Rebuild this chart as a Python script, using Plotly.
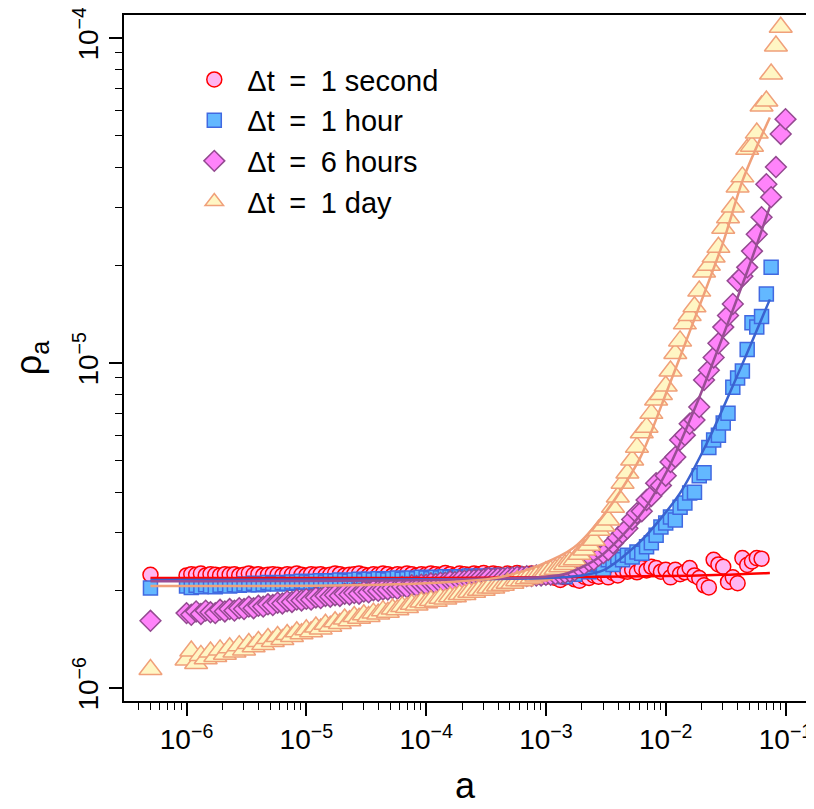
import plotly.graph_objects as go

# shared grid of a values (first isolated point, then log-binned values)
a_grid = [
    5.0e-7,
    1.000e-6, 1.096e-6, 1.202e-6, 1.318e-6, 1.445e-6, 1.585e-6, 1.738e-6, 1.905e-6, 2.089e-6, 2.291e-6,
    2.512e-6, 2.754e-6, 3.020e-6, 3.311e-6, 3.631e-6, 3.981e-6, 4.365e-6, 4.786e-6, 5.248e-6, 5.754e-6,
    6.310e-6, 6.918e-6, 7.586e-6, 8.318e-6, 9.120e-6,
    1.000e-5, 1.096e-5, 1.202e-5, 1.318e-5, 1.445e-5, 1.585e-5, 1.738e-5, 1.905e-5, 2.089e-5, 2.291e-5,
    2.512e-5, 2.754e-5, 3.020e-5, 3.311e-5, 3.631e-5, 3.981e-5, 4.365e-5, 4.786e-5, 5.248e-5, 5.754e-5,
    6.310e-5, 6.918e-5, 7.586e-5, 8.318e-5, 9.120e-5,
    1.000e-4, 1.096e-4, 1.202e-4, 1.318e-4, 1.445e-4, 1.585e-4, 1.738e-4, 1.905e-4, 2.089e-4, 2.291e-4,
    2.512e-4, 2.754e-4, 3.020e-4, 3.311e-4, 3.631e-4, 3.981e-4, 4.365e-4, 4.786e-4, 5.248e-4, 5.754e-4,
    6.310e-4, 6.918e-4, 7.586e-4, 8.318e-4, 9.120e-4,
    1.000e-3, 1.096e-3, 1.202e-3, 1.318e-3, 1.445e-3, 1.585e-3, 1.738e-3, 1.905e-3, 2.089e-3, 2.291e-3,
    2.512e-3, 2.754e-3, 3.020e-3, 3.311e-3, 3.631e-3, 3.981e-3, 4.365e-3, 4.786e-3, 5.248e-3, 5.754e-3,
    6.310e-3, 6.918e-3, 7.586e-3, 8.318e-3, 9.120e-3,
    1.000e-2, 1.096e-2, 1.202e-2, 1.318e-2, 1.445e-2, 1.585e-2, 1.738e-2, 1.905e-2, 2.089e-2, 2.291e-2,
    2.512e-2, 2.754e-2, 3.020e-2, 3.311e-2, 3.631e-2, 3.981e-2, 4.365e-2, 4.786e-2, 5.248e-2, 5.754e-2,
    6.310e-2, 6.918e-2, 7.586e-2, 8.318e-2, 9.120e-2,
    1.000e-1,
]

# rho_a values in units of 1e-6
rho_1sec = [
    2.23,
    2.22, 2.24, 2.23, 2.25, 2.22, 2.24, 2.23, 2.22, 2.24, 2.23,
    2.24, 2.22, 2.23, 2.25, 2.23, 2.24, 2.22, 2.23, 2.24, 2.23,
    2.22, 2.24, 2.23, 2.25, 2.23, 2.22, 2.24, 2.23, 2.24, 2.22,
    2.23, 2.25, 2.24, 2.22, 2.23, 2.24, 2.25, 2.23, 2.22, 2.24,
    2.23, 2.25, 2.24, 2.22, 2.24, 2.23, 2.25, 2.24, 2.22, 2.24,
    2.23, 2.25, 2.24, 2.23, 2.26, 2.24, 2.22, 2.25, 2.24, 2.23,
    2.25, 2.24, 2.26, 2.23, 2.25, 2.24, 2.22, 2.25, 2.23, 2.26,
    2.24, 2.22, 2.25, 2.21, 2.23, 2.20, 2.22, 2.18, 2.15, 2.19,
    2.20, 2.16, 2.14, 2.20, 2.18, 2.22, 2.20, 2.24, 2.19, 2.26,
    2.22, 2.30, 2.28, 2.31, 2.27, 2.34, 2.30, 2.36, 2.34, 2.28,
    2.31, 2.19, 2.31, 2.24, 2.27, 2.34, 2.22, 2.18, 2.07, 2.04,
    2.48, 2.40, 2.36, 2.12, 2.19, 2.10, 2.51, 2.39, 2.45, 2.51,
    2.50,
]
rho_1hour = [
    2.03,
    2.06, 2.04, 2.07, 2.05, 2.08, 2.06, 2.05, 2.07, 2.08, 2.06,
    2.08, 2.07, 2.09, 2.08, 2.10, 2.08, 2.09, 2.11, 2.10, 2.09,
    2.11, 2.10, 2.12, 2.11, 2.13, 2.12, 2.11, 2.13, 2.14, 2.12,
    2.14, 2.13, 2.15, 2.14, 2.13, 2.15, 2.16, 2.14, 2.16, 2.15,
    2.17, 2.16, 2.15, 2.17, 2.18, 2.16, 2.17, 2.18, 2.17, 2.19,
    2.18, 2.17, 2.19, 2.18, 2.20, 2.19, 2.18, 2.20, 2.19, 2.21,
    2.20, 2.19, 2.21, 2.20, 2.22, 2.20, 2.21, 2.19, 2.22, 2.20,
    2.21, 2.22, 2.20, 2.23, 2.21, 2.22, 2.22, 2.22, 2.24, 2.20,
    2.26, 2.24, 2.30, 2.36, 2.28, 2.40, 2.42, 2.32, 2.48, 2.40,
    2.53, 2.48, 2.56, 2.53, 2.62, 2.60, 2.72, 2.80, 2.95, 3.13,
    3.22, 3.36, 3.29, 3.60, 3.71, 3.98, 4.00, 4.50, 4.60, 5.50,
    5.80, 6.00, 6.54, 7.00, 8.42, 9.00, 9.45, 11.0, 13.3, 12.9,
    13.9, 16.3, 19.7,
]
rho_6hours = [
    1.61,
    1.70, 1.68, 1.72, 1.69, 1.73, 1.71, 1.70, 1.74, 1.72, 1.75,
    1.73, 1.76, 1.75, 1.78, 1.76, 1.79, 1.78, 1.81, 1.80, 1.83,
    1.82, 1.85, 1.84, 1.87, 1.86, 1.88, 1.87, 1.90, 1.89, 1.92,
    1.91, 1.93, 1.92, 1.95, 1.94, 1.96, 1.95, 1.98, 1.97, 2.00,
    1.99, 2.01, 2.01, 2.03, 2.02, 2.05, 2.04, 2.07, 2.06, 2.08,
    2.08, 2.10, 2.09, 2.11, 2.11, 2.13, 2.12, 2.14, 2.14, 2.15,
    2.15, 2.16, 2.16, 2.18, 2.17, 2.18, 2.18, 2.19, 2.19, 2.20,
    2.20, 2.21, 2.21, 2.22, 2.22, 2.23, 2.23, 2.24, 2.25, 2.26,
    2.28, 2.30, 2.36, 2.40, 2.46, 2.48, 2.55, 2.60, 2.66, 2.79,
    2.90, 3.00, 3.10, 3.30, 3.45, 3.50, 3.79, 3.90, 4.27, 4.20,
    4.50, 4.96, 5.14, 5.80, 6.00, 6.50, 6.68, 7.32, 8.87, 9.50,
    10.4, 11.5, 12.9, 14.0, 15.2, 17.9, 18.5, 19.7, 22.1, 24.9,
    28.1, 35.5, 32.4, 40.1, 50.7, 56.3,
]
rho_1day = [
    1.14,
    1.22, 1.30, 1.19, 1.26, 1.23, 1.29, 1.25, 1.31, 1.27, 1.33,
    1.29, 1.35, 1.31, 1.37, 1.34, 1.39, 1.36, 1.42, 1.39, 1.44,
    1.41, 1.46, 1.44, 1.49, 1.47, 1.51, 1.49, 1.54, 1.52, 1.57,
    1.55, 1.60, 1.58, 1.63, 1.61, 1.66, 1.64, 1.68, 1.66, 1.70,
    1.69, 1.73, 1.71, 1.75, 1.74, 1.78, 1.77, 1.81, 1.80, 1.84,
    1.83, 1.86, 1.85, 1.89, 1.88, 1.91, 1.91, 1.94, 1.94, 1.97,
    1.97, 2.00, 2.00, 2.03, 2.03, 2.06, 2.07, 2.10, 2.10, 2.14,
    2.14, 2.17, 2.18, 2.21, 2.23, 2.28, 2.30, 2.32, 2.36, 2.40,
    2.45, 2.48, 2.58, 2.66, 2.75, 2.85, 3.06, 3.15, 3.29, 3.60,
    3.87, 4.27, 4.59, 5.03, 5.51, 6.10, 6.35, 7.00, 7.70, 8.00,
    8.50, 9.45, 10.7, 11.7, 13.2, 14.0, 14.9, 16.65, 19.05, 20.0,
    21.2, 22.7, 26.0, 28.0, 30.2, 34.8, 37.4, 45.5, 46.5, 51.0,
    61.8, 64.0, 77.5, 94.5, 108.0,
]

# fitted curves (a, rho in units of 1e-6)
fit_1sec_a = [5e-7, 1e-5, 1e-4, 1e-3, 1e-2, 3e-2, 7.4e-2]
fit_1sec_rho = [2.18, 2.18, 2.18, 2.19, 2.21, 2.23, 2.26]
fit_1hour_a = [5e-7, 1e-4, 1e-3, 2e-3, 3e-3, 6e-3, 1.3e-2, 2.3e-2, 4.4e-2, 7.4e-2]
fit_1hour_rho = [2.15, 2.16, 2.18, 2.22, 2.30, 2.80, 3.95, 5.85, 10.0, 15.7]
fit_6hours_a = [5e-7, 1e-4, 1e-3, 1.5e-3, 2.8e-3, 6.1e-3, 1.03e-2, 1.87e-2, 3.26e-2, 5.03e-2, 7.43e-2]
fit_6hours_rho = [2.13, 2.15, 2.20, 2.25, 2.53, 3.40, 4.67, 7.70, 13.1, 20.1, 30.4]
fit_1day_a = [5e-7, 2.3e-5, 1.6e-4, 4.1e-4, 8.9e-4, 1.7e-3, 3.2e-3, 6.1e-3, 1.03e-2, 1.6e-2, 3.0e-2, 4.4e-2, 7.4e-2]
fit_1day_rho = [2.06, 2.07, 2.12, 2.19, 2.39, 2.70, 3.50, 5.10, 8.25, 12.6, 23.4, 36.6, 57.0]

series_names = ["\u0394t\u2002=\u20021 second", "\u0394t\u2002=\u20021 hour",
                "\u0394t\u2002=\u20026 hours", "\u0394t\u2002=\u20021 day"]
x_ticks = [1e-6, 1e-5, 1e-4, 1e-3, 1e-2, 1e-1]
x_ticktext = ["10<sup>\u22126</sup>", "10<sup>\u22125</sup>", "10<sup>\u22124</sup>",
              "10<sup>\u22123</sup>", "10<sup>\u22122</sup>", "10<sup>\u22121</sup>"]
y_ticks = [1e-6, 1e-5, 1e-4]
y_ticktext = ["10<sup>\u22126</sup>", "10<sup>\u22125</sup>", "10<sup>\u22124</sup>"]

U = 1e-6
styles = [
    dict(symbol="circle", size=15, color="#FFB6F2", line=dict(color="#FF0000", width=1.5)),
    dict(symbol="square", size=14, color="#63B8FF", line=dict(color="#4169E1", width=1.5)),
    dict(symbol="diamond", size=16, color="#FF83FA", line=dict(color="#944A91", width=1.5)),
    dict(symbol="triangle-up", size=20, color="#FFF6C4", line=dict(color="#F0A07A", width=1.5)),
]
line_colors = ["#FF0000", "#3A62D0", "#9A4D95", "#F0A07A"]
point_sets = [rho_1sec, rho_1hour, rho_6hours, rho_1day]
fit_sets = [(fit_1sec_a, fit_1sec_rho), (fit_1hour_a, fit_1hour_rho),
            (fit_6hours_a, fit_6hours_rho), (fit_1day_a, fit_1day_rho)]

fig = go.Figure()
for i, rho in enumerate(point_sets):
    fig.add_trace(go.Scatter(
        x=a_grid[:len(rho)], y=[v * U for v in rho], mode="markers",
        name=series_names[i], marker=styles[i], legendgroup=str(i)))
for i, (fa, fr) in enumerate(fit_sets):
    fig.add_trace(go.Scatter(
        x=fa, y=[v * U for v in fr], mode="lines", showlegend=False,
        line=dict(color=line_colors[i], width=2.5, shape="spline", smoothing=0.8)))

x_minor = [m * 10.0 ** e for e in range(-7, -1) for m in range(2, 10)]
y_minor = [m * 10.0 ** e for e in range(-6, -4) for m in range(2, 10)]

# the page body has an 8px margin, so the figure is sized/offset to compensate
fig.update_layout(
    width=814, height=801,
    margin=dict(l=116, r=16, t=7, b=108),
    paper_bgcolor="white", plot_bgcolor="white",
    font=dict(family="Liberation Sans, Arial, sans-serif", color="black"),
    legend=dict(x=0.084, y=0.943, xanchor="left", yanchor="top",
                bgcolor="rgba(0,0,0,0)", font=dict(size=29), itemwidth=56,
                traceorder="normal", tracegroupgap=0),
    xaxis=dict(type="log", range=[-6.522, -0.829], tickmode="array",
               tickvals=x_ticks, ticktext=x_ticktext, ticks="outside",
               ticklen=13, tickwidth=1.5, tickcolor="black", automargin=False,
               ticklabeloverflow="allow",
               showline=True, linecolor="black", linewidth=1.5, mirror=True,
               showgrid=False, zeroline=False, tickfont=dict(size=28),
               minor=dict(tickmode="array", tickvals=x_minor, ticks="outside",
                          ticklen=7, tickwidth=1.2, tickcolor="black", showgrid=False),
               title=dict(text="a", font=dict(size=36), standoff=18)),
    yaxis=dict(type="log", range=[-6.04, -3.929], tickmode="array",
               tickvals=y_ticks, ticktext=y_ticktext, ticks="outside",
               ticklen=13, tickwidth=1.5, tickcolor="black", tickangle=-90,
               automargin=False, ticklabeloverflow="allow",
               showline=True, linecolor="black", linewidth=1.5, mirror=True,
               showgrid=False, zeroline=False, tickfont=dict(size=28),
               minor=dict(tickmode="array", tickvals=y_minor, ticks="outside",
                          ticklen=7, tickwidth=1.2, tickcolor="black", showgrid=False),
               title=dict(text="\u03c1<sub>a</sub>", font=dict(size=36), standoff=26)),
)

fig.write_html("out.html")
